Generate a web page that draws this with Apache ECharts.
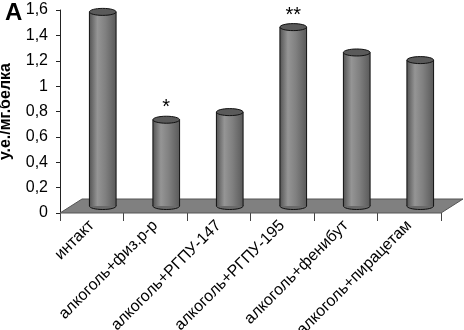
<!DOCTYPE html>
<html>
<head>
<meta charset="utf-8">
<script src="https://cdn.jsdelivr.net/npm/echarts@6/dist/echarts.min.js"></script>
<style>
html,body{margin:0;padding:0;background:#fff;}
#chart{width:464px;height:330px;}
</style>
</head>
<body>
<div id="chart"></div>
<script>
// данные
var categories = ['интакт', 'алкоголь+физ.р-р', 'алкоголь+РГПУ-147', 'алкоголь+РГПУ-195', 'алкоголь+фенибут', 'алкоголь+пирацетам'];
var values = [1.53, 0.68, 0.74, 1.41, 1.21, 1.15];
var signs = ['', '*', '', '**', '', ''];
var yTicks = { min: 0, max: 1.6, step: 0.2 };

var chart = echarts.init(document.getElementById('chart'));
var depthX = 22, depthY = -14; // глубина "пола"

var option = {
	animation: false,
	title: {
		text: 'A', left: 0, top: -4,
		textStyle: { fontFamily: 'Liberation Sans', fontWeight: 'bold', fontSize: 24, color: '#000' }
	},
	grid: { left: 60, right: 23, top: 10, bottom: 117, outerBoundsMode: 'none' },
	xAxis: {
		type: 'category',
		data: categories,
		axisLine: { show: false },
		axisTick: { show: true, length: 8, lineStyle: { color: '#444' } },
		axisLabel: {
			rotate: 45, margin: 10, interval: 0,
			fontFamily: 'Liberation Sans', fontSize: 16, color: '#000'
		},
		splitLine: { show: false }
	},
	yAxis: {
		type: 'value',
		min: yTicks.min, max: yTicks.max, interval: yTicks.step,
		name: 'у.е./мг.белка',
		nameLocation: 'middle', nameRotate: 90, nameGap: 46,
		nameTextStyle: { fontFamily: 'Liberation Sans', fontWeight: 'bold', fontSize: 16, color: '#000' },
		axisLine: { show: true, lineStyle: { color: '#222', width: 1 } },
		axisTick: { show: true, length: 4, lineStyle: { color: '#222' } },
		axisLabel: {
			margin: 12, fontFamily: 'Liberation Sans', fontSize: 16, color: '#000',
			formatter: function (v) { return String(Math.round(v * 10) / 10).replace('.', ','); }
		},
		splitLine: { show: false }
	},
	series: [
		{
			// пол
			type: 'custom',
			z: 1,
			silent: true,
			renderItem: function (params, api) {
				var cs = params.coordSys;
				var fy = api.coord([0, 0])[1];
				return {
					type: 'polygon',
					shape: { points: [
						[cs.x, fy], [cs.x + cs.width, fy],
						[cs.x + cs.width + depthX, fy + depthY], [cs.x + depthX, fy + depthY]
					] },
					style: { fill: '#808080', stroke: '#555', lineWidth: 1 }
				};
			},
			data: [0]
		},
		{
			// цилиндры
			type: 'custom',
			z: 2,
			renderItem: function (params, api) {
				var i = api.value(0);
				var v = api.value(1);
				var base = api.coord([i, 0]);
				var top = api.coord([i, v]);
				var band = api.size([1, 0])[0];
				var w = band * 0.42;
				var cx = base[0] + depthX / 2;
				var by = base[1] + depthY / 2;
				var ty = top[1] + depthY / 2;
				var ry = 3.5;
				var grad = new echarts.graphic.LinearGradient(0, 0, 1, 0, [
					{ offset: 0, color: '#555' },
					{ offset: 0.3, color: '#959595' },
					{ offset: 0.6, color: '#808080' },
					{ offset: 1, color: '#5a5a5a' }
				]);
				var children = [
					{ type: 'ellipse', shape: { cx: cx, cy: by, rx: w / 2, ry: ry },
						style: { fill: '#6a6a6a', stroke: '#111', lineWidth: 1 } },
					{ type: 'rect', shape: { x: cx - w / 2, y: ty, width: w, height: by - ty },
						style: { fill: grad } },
					{ type: 'line', shape: { x1: cx - w / 2, y1: ty, x2: cx - w / 2, y2: by },
						style: { stroke: '#111', lineWidth: 1 } },
					{ type: 'line', shape: { x1: cx + w / 2, y1: ty, x2: cx + w / 2, y2: by },
						style: { stroke: '#111', lineWidth: 1 } },
					{ type: 'ellipse', shape: { cx: cx, cy: ty, rx: w / 2, ry: ry },
						style: { fill: '#5a5a5a', stroke: '#111', lineWidth: 1 } }
				];
				var s = signs[params.dataIndex];
				if (s) {
					children.push({
						type: 'text',
						style: {
							x: cx, y: ty - 12, text: s,
							align: 'center', verticalAlign: 'middle',
							font: '20px "Liberation Sans"', fill: '#000'
						}
					});
				}
				return { type: 'group', children: children };
			},
			encode: { x: 0, y: 1 },
			data: values.map(function (v, i) { return [i, v]; })
		}
	]
};
chart.setOption(option);
</script>
</body>
</html>
